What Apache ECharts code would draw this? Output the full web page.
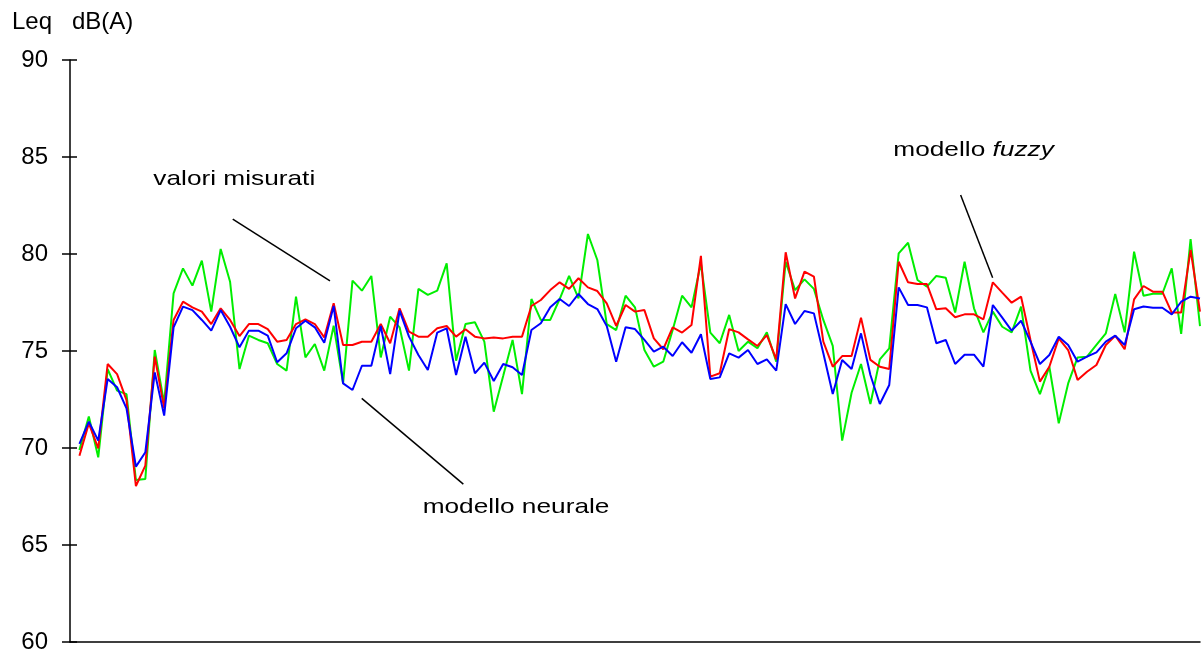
<!DOCTYPE html>
<html><head><meta charset="utf-8">
<script src="https://cdn.jsdelivr.net/npm/echarts@6/dist/echarts.min.js"></script>
<style>html,body{margin:0;padding:0;background:#fff}#c{width:1201px;height:655px}</style>
</head><body><div id="c"></div>
<script>
// y-axis ticks (dB(A))
const yTicks = [60, 65, 70, 75, 80, 85, 90];
// valori misurati (green)
const measured = [
  69.90, 71.62, 69.52, 74.07, 72.96, 72.78, 68.35, 68.40, 75.05, 72.30,
  77.97, 79.26, 78.37, 79.66, 77.03, 80.26, 78.57, 74.07, 75.79, 75.57,
  75.40, 74.33, 73.99, 77.80, 74.67, 75.36, 73.99, 76.31, 73.33, 78.63,
  78.11, 78.87, 74.67, 76.77, 76.22, 73.99, 78.20, 77.89, 78.11, 79.52,
  74.50, 76.39, 76.48, 75.48, 71.87, 73.71, 75.57, 72.78, 77.68, 76.60,
  76.60, 77.68, 78.87, 77.71, 81.03, 79.69, 76.39, 76.08, 77.85, 77.25,
  75.05, 74.19, 74.45, 76.08, 77.85, 77.25, 79.52, 75.95, 75.40, 76.86,
  75.00, 75.48, 75.14, 75.96, 74.45, 79.60, 78.14, 78.69, 78.20, 76.60,
  75.26, 70.38, 72.85, 74.33, 72.27, 74.57, 75.14, 80.03, 80.58, 78.66,
  78.32, 78.87, 78.78, 76.98, 79.60, 77.20, 75.96, 77.03, 76.25, 75.96,
  77.29, 73.99, 72.78, 74.19, 71.27, 73.33, 74.67, 74.71, 75.31, 75.91,
  77.94, 75.96, 80.12, 77.85, 77.95, 77.95, 79.26, 75.88, 80.77, 76.28
];
// modello fuzzy (red)
const fuzzy = [
  69.60, 71.27, 69.98, 74.33, 73.81, 72.47, 68.04, 69.09, 74.71, 72.04,
  76.60, 77.54, 77.25, 77.03, 76.39, 77.20, 76.60, 75.77, 76.39, 76.39,
  76.13, 75.48, 75.57, 76.39, 76.63, 76.39, 75.70, 77.46, 75.31, 75.31,
  75.48, 75.48, 76.39, 75.40, 77.20, 76.00, 75.74, 75.74, 76.17, 76.29,
  75.74, 76.12, 75.74, 75.65, 75.70, 75.65, 75.74, 75.74, 77.32, 77.63,
  78.14, 78.54, 78.20, 78.75, 78.28, 78.09, 77.46, 76.29, 77.37, 77.03,
  77.11, 75.65, 75.09, 76.22, 75.95, 76.34, 79.90, 73.68, 73.85, 76.13,
  75.96, 75.60, 75.26, 75.82, 74.57, 80.09, 77.71, 79.09, 78.83, 75.48,
  74.19, 74.74, 74.74, 76.72, 74.54, 74.19, 74.07, 79.60, 78.54, 78.45,
  78.45, 77.15, 77.20, 76.74, 76.89, 76.89, 76.63, 78.54, 78.01, 77.49,
  77.80, 75.57, 73.42, 74.19, 75.65, 75.05, 73.51, 73.93, 74.28, 75.31,
  75.79, 75.09, 77.66, 78.35, 78.06, 78.06, 76.98, 76.98, 80.21, 77.03
];
// modello neurale (blue)
const neural = [
  70.21, 71.36, 70.38, 73.56, 73.13, 72.04, 69.04, 69.78, 73.90, 71.67,
  76.22, 77.29, 77.11, 76.60, 76.05, 77.11, 76.25, 75.19, 76.05, 76.05,
  75.79, 74.42, 74.88, 76.17, 76.56, 76.22, 75.43, 77.32, 73.33, 72.99,
  74.24, 74.24, 76.29, 73.81, 77.08, 75.74, 74.79, 74.02, 75.95, 76.17,
  73.76, 75.74, 73.85, 74.40, 73.45, 74.33, 74.16, 73.76, 76.08, 76.43,
  77.25, 77.68, 77.32, 77.94, 77.42, 77.16, 76.29, 74.45, 76.22, 76.13,
  75.57, 74.97, 75.22, 74.74, 75.45, 74.91, 75.86, 73.56, 73.64, 74.88,
  74.66, 75.05, 74.33, 74.57, 73.99, 77.42, 76.39, 77.06, 76.94, 74.88,
  72.78, 74.54, 74.07, 75.91, 73.76, 72.27, 73.25, 78.28, 77.37, 77.37,
  77.25, 75.40, 75.57, 74.33, 74.81, 74.81, 74.19, 77.37, 76.72, 76.05,
  76.56, 75.48, 74.33, 74.79, 75.74, 75.31, 74.45, 74.71, 74.93, 75.48,
  75.79, 75.31, 77.15, 77.29, 77.23, 77.23, 76.89, 77.54, 77.80, 77.71
];
// annotation leader lines, in data coordinates [x index, dB]
const leaderLines = [
  [[17.28, 81.80], [27.61, 78.62]],
  [[30.98, 72.56], [41.77, 68.14]],
  [[94.58, 83.04], [97.98, 78.78]]
];
// annotation labels: text, left/middle anchor in data coordinates
const labels = [
  { text: '{n|valori misurati}', at: [8.85, 83.84] },
  { text: '{n|modello neurale}', at: [37.45, 66.96] },
  { text: '{n|modello }{i|fuzzy}', at: [87.43, 85.36] }
];

const FONT = '"Liberation Sans", Arial, sans-serif';
const toXY = arr => arr.map((v, i) => [i + 1, v]);

const chart = echarts.init(document.getElementById('c'), null, { renderer: 'canvas' });
const yAxisBase = {
  type: 'value', min: yTicks[0], max: yTicks[yTicks.length - 1], interval: 5,
  position: 'left', splitLine: { show: false }
};
chart.setOption({
  animation: false,
  backgroundColor: '#fff',
  grid: { left: 70, right: 1, top: 60, bottom: 13, outerBoundsMode: 'none' },
  xAxis: {
    type: 'value', min: 0, max: 120,
    axisLine: { show: true, onZero: false, lineStyle: { color: '#000', width: 1.5 } },
    axisTick: { show: false }, axisLabel: { show: false }, splitLine: { show: false }
  },
  yAxis: [
    Object.assign({}, yAxisBase, {
      axisLine: { show: true, lineStyle: { color: '#000', width: 1.5 } },
      axisTick: { show: true, length: 8, lineStyle: { color: '#000', width: 1.5 } },
      axisLabel: { color: '#000', fontSize: 24, fontFamily: FONT, margin: 22 }
    }),
    Object.assign({}, yAxisBase, {
      axisLine: { show: false },
      axisTick: { show: true, inside: true, length: 7, lineStyle: { color: '#000', width: 1.5 } },
      axisLabel: { show: false }
    })
  ],
  series: [
    {
      name: 'valori misurati', type: 'line', data: toXY(measured), yAxisIndex: 0,
      symbol: 'none', lineStyle: { color: '#00ee00', width: 2 }, itemStyle: { color: '#00ee00' },
      z: 2,
      markLine: {
        silent: true, symbol: ['none', 'none'], animation: false,
        label: { show: false },
        lineStyle: { color: '#000', width: 1.5, type: 'solid' },
        emphasis: { disabled: true },
        data: leaderLines.map(l => [{ coord: l[0] }, { coord: l[1] }])
      }
    },
    {
      name: 'modello fuzzy', type: 'line', data: toXY(fuzzy), yAxisIndex: 0,
      symbol: 'none', lineStyle: { color: '#ff0000', width: 2 }, itemStyle: { color: '#ff0000' }, z: 3
    },
    {
      name: 'modello neurale', type: 'line', data: toXY(neural), yAxisIndex: 0,
      symbol: 'none', lineStyle: { color: '#0000ff', width: 2 }, itemStyle: { color: '#0000ff' }, z: 4
    }
  ]
});

const textRich = {
  n: { fontSize: 21, fontFamily: FONT, fill: '#000' },
  i: { fontSize: 21, fontFamily: FONT, fontStyle: 'italic', fill: '#000' }
};
const graphics = [
  { type: 'text', left: 12, top: 10, style: { text: 'Leq', font: '24px ' + FONT, fill: '#000' } },
  { type: 'text', left: 72, top: 10, style: { text: 'dB(A)', font: '24px ' + FONT, fill: '#000' } }
];
labels.forEach(l => {
  const p = chart.convertToPixel({ gridIndex: 0 }, l.at);
  graphics.push({
    type: 'text', x: p[0], y: p[1], scaleX: 1.25, scaleY: 1,
    style: { text: l.text, rich: textRich, font: '21px ' + FONT, fill: '#000', align: 'left', verticalAlign: 'middle' }
  });
});
chart.setOption({ graphic: graphics });
</script>
</body></html>
